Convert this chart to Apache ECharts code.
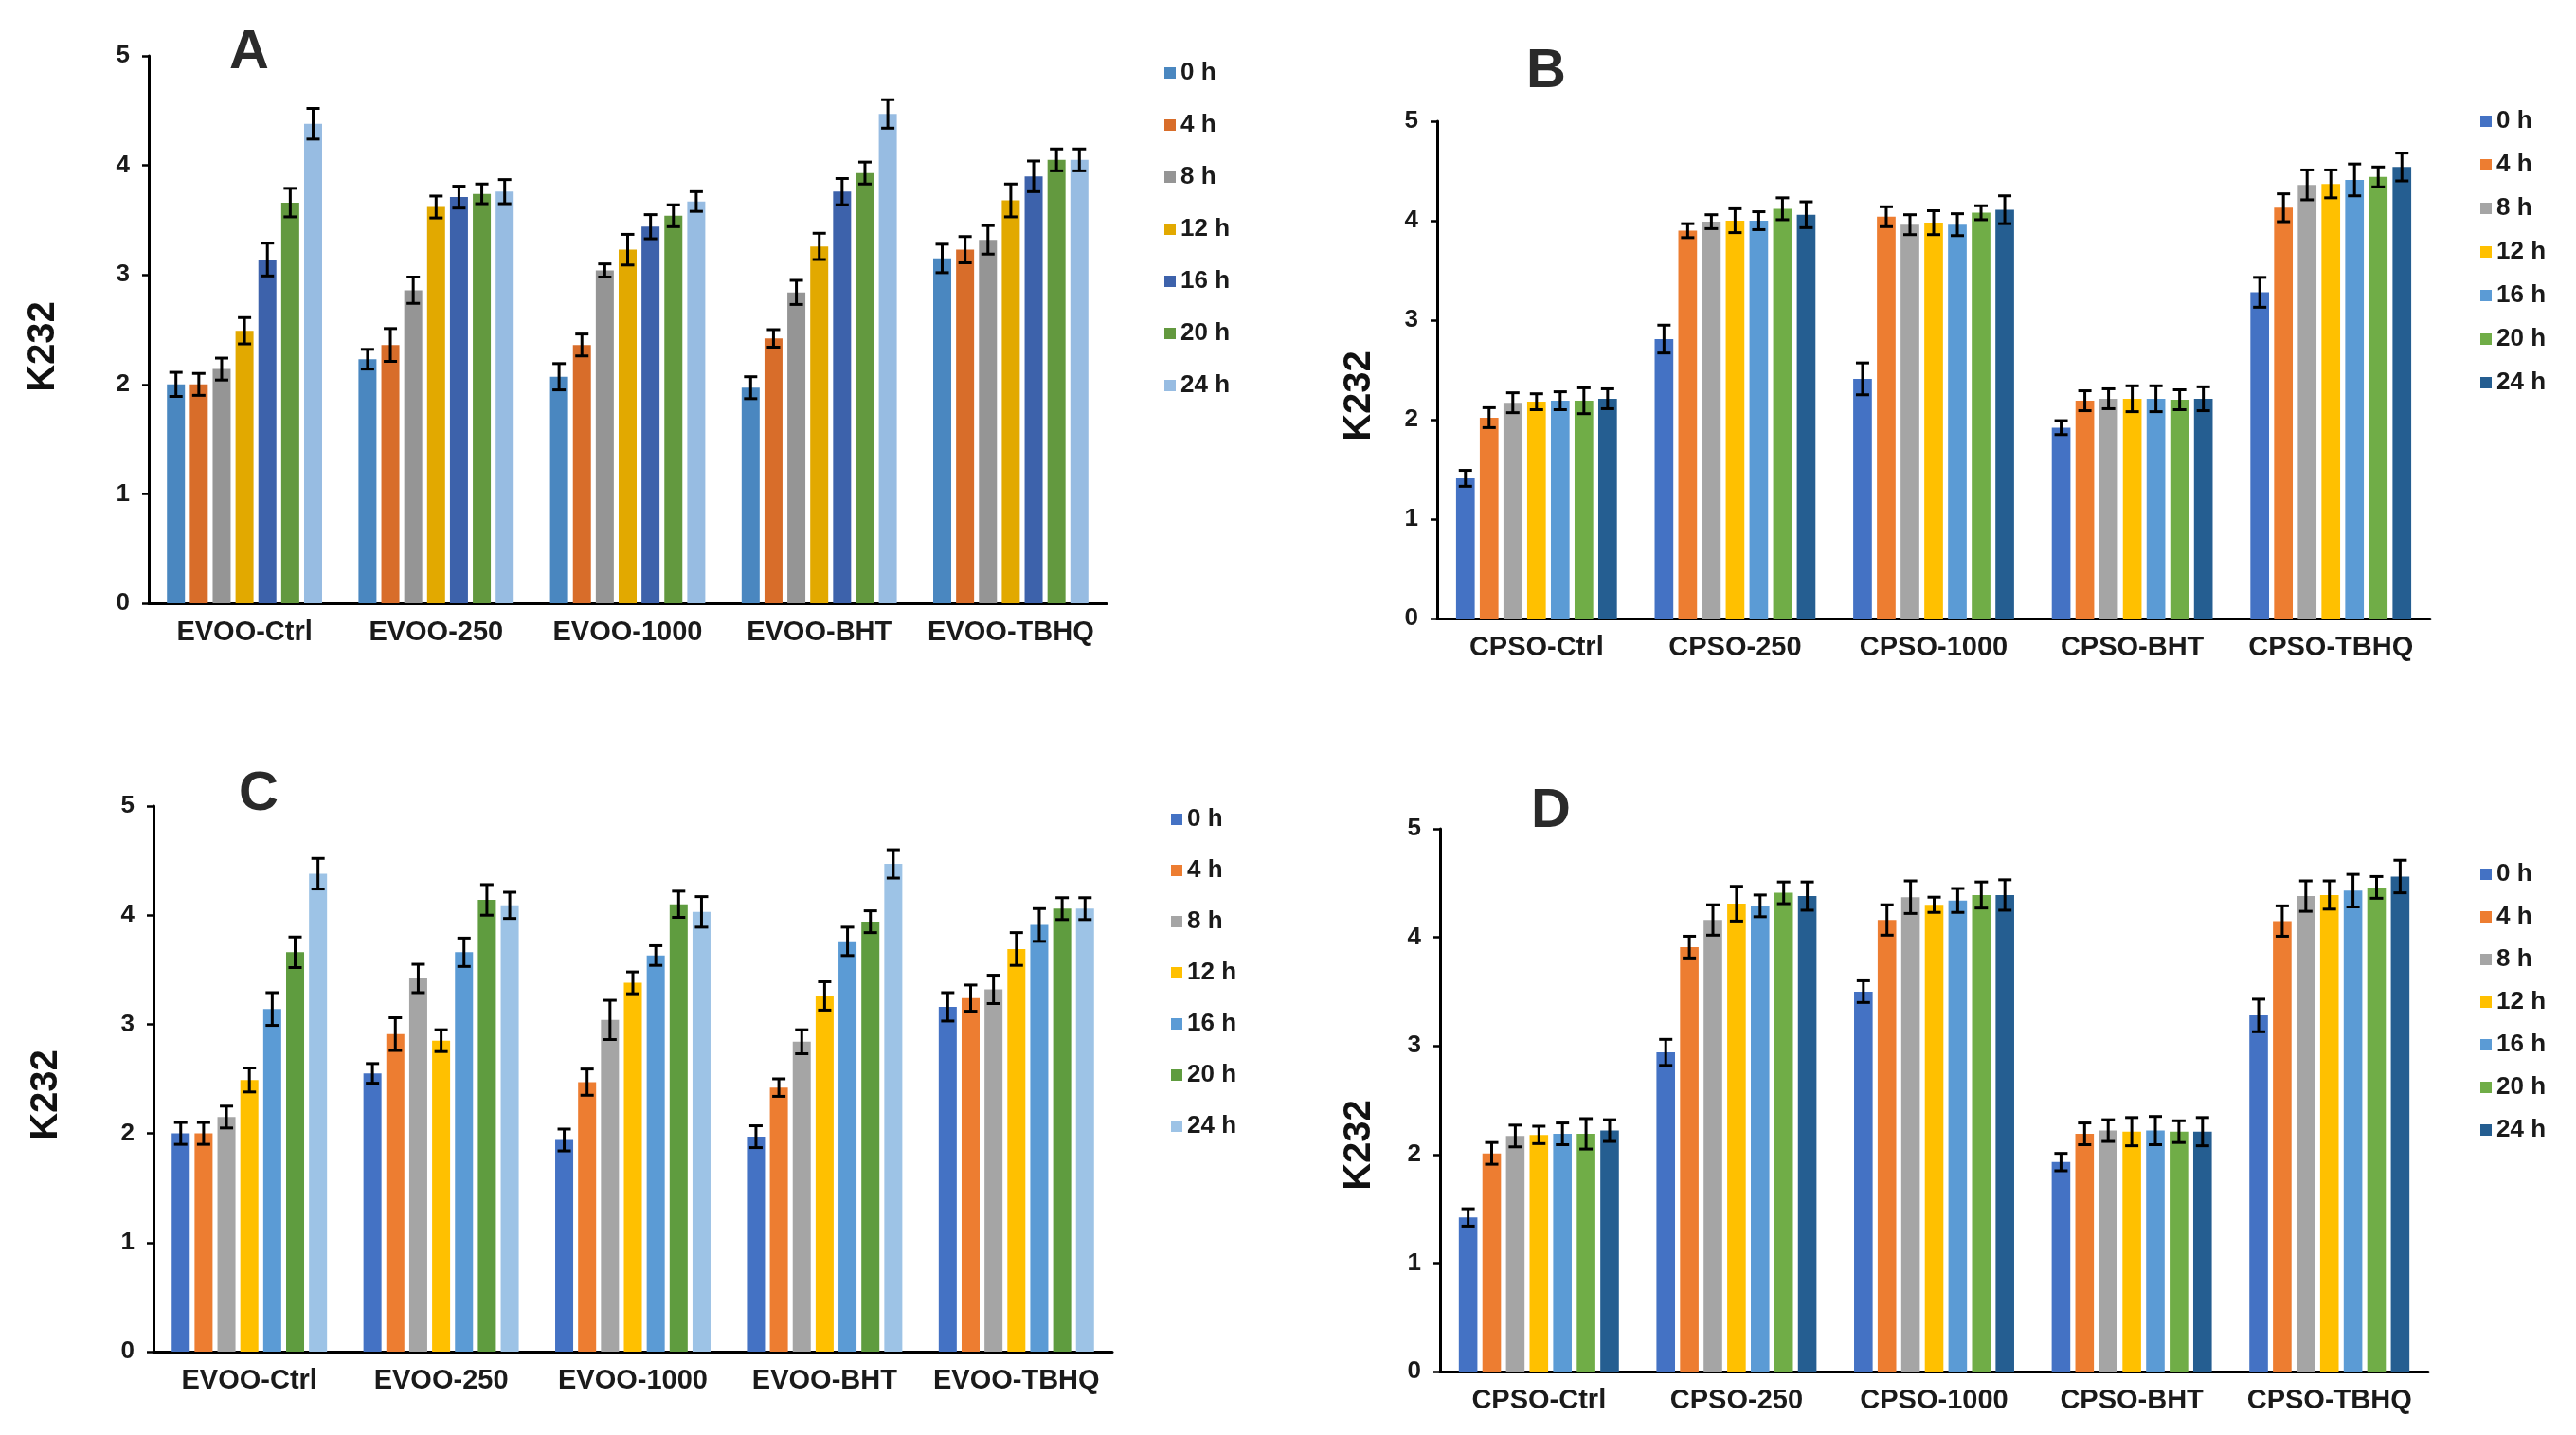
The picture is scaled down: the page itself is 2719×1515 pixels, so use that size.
<!DOCTYPE html>
<html>
<head>
<meta charset="utf-8">
<script src="https://cdn.jsdelivr.net/npm/echarts@6/dist/echarts.min.js"></script>
<style>
html,body{margin:0;padding:0;background:#fff;}
#chart{width:2719px;height:1515px;}
</style>
</head>
<body>
<div id="chart"></div>
<script>
// ---------- DATA ----------
const times = ['0 h','4 h','8 h','12 h','16 h','20 h','24 h'];
const catsEVOO = ['EVOO-Ctrl','EVOO-250','EVOO-1000','EVOO-BHT','EVOO-TBHQ'];
const catsCPSO = ['CPSO-Ctrl','CPSO-250','CPSO-1000','CPSO-BHT','CPSO-TBHQ'];
const yTicks = [0,1,2,3,4,5];

// rows = categories, columns = times (0..24 h)
const meanA = [
  [2.00, 2.00, 2.14, 2.49, 3.14, 3.66, 4.38],
  [2.23, 2.36, 2.86, 3.62, 3.71, 3.74, 3.76],
  [2.07, 2.36, 3.04, 3.23, 3.44, 3.54, 3.67],
  [1.97, 2.42, 2.84, 3.26, 3.76, 3.93, 4.47],
  [3.15, 3.23, 3.32, 3.68, 3.90, 4.05, 4.05]
];
const errA = [
  [0.11, 0.10, 0.10, 0.12, 0.15, 0.13, 0.14],
  [0.09, 0.15, 0.12, 0.10, 0.10, 0.09, 0.11],
  [0.12, 0.10, 0.06, 0.14, 0.11, 0.10, 0.09],
  [0.10, 0.08, 0.11, 0.12, 0.12, 0.10, 0.13],
  [0.13, 0.12, 0.13, 0.15, 0.14, 0.10, 0.10]
];
const meanB = [
  [1.41, 2.02, 2.17, 2.18, 2.19, 2.19, 2.21],
  [2.81, 3.90, 3.99, 4.00, 4.00, 4.12, 4.06],
  [2.41, 4.04, 3.96, 3.98, 3.96, 4.08, 4.11],
  [1.92, 2.19, 2.21, 2.21, 2.21, 2.20, 2.21],
  [3.28, 4.13, 4.36, 4.37, 4.41, 4.44, 4.54]
];
const errB = [
  [0.08, 0.10, 0.10, 0.08, 0.09, 0.13, 0.10],
  [0.14, 0.07, 0.07, 0.12, 0.09, 0.11, 0.13],
  [0.16, 0.10, 0.10, 0.12, 0.11, 0.07, 0.14],
  [0.07, 0.10, 0.10, 0.13, 0.13, 0.10, 0.12],
  [0.15, 0.14, 0.15, 0.14, 0.16, 0.10, 0.14]
];
const meanC = [
  [2.00, 2.00, 2.15, 2.49, 3.14, 3.66, 4.38],
  [2.55, 2.91, 3.42, 2.85, 3.66, 4.14, 4.09],
  [1.94, 2.47, 3.04, 3.38, 3.63, 4.10, 4.03],
  [1.97, 2.42, 2.84, 3.26, 3.76, 3.94, 4.47],
  [3.16, 3.24, 3.32, 3.69, 3.91, 4.06, 4.06]
];
const errC = [
  [0.10, 0.10, 0.10, 0.11, 0.15, 0.14, 0.14],
  [0.09, 0.15, 0.13, 0.10, 0.13, 0.14, 0.12],
  [0.10, 0.12, 0.18, 0.10, 0.09, 0.12, 0.14],
  [0.10, 0.08, 0.11, 0.13, 0.13, 0.10, 0.13],
  [0.13, 0.12, 0.13, 0.15, 0.15, 0.10, 0.10]
];
const meanD = [
  [1.42, 2.01, 2.17, 2.18, 2.19, 2.19, 2.22],
  [2.94, 3.91, 4.16, 4.31, 4.29, 4.41, 4.38],
  [3.50, 4.16, 4.37, 4.30, 4.34, 4.39, 4.39],
  [1.93, 2.19, 2.22, 2.21, 2.22, 2.21, 2.21],
  [3.28, 4.15, 4.38, 4.39, 4.43, 4.46, 4.56]
];
const errD = [
  [0.08, 0.10, 0.10, 0.08, 0.10, 0.14, 0.10],
  [0.12, 0.10, 0.14, 0.16, 0.10, 0.10, 0.13],
  [0.10, 0.14, 0.15, 0.07, 0.11, 0.12, 0.14],
  [0.08, 0.10, 0.10, 0.13, 0.13, 0.10, 0.13],
  [0.15, 0.14, 0.14, 0.13, 0.15, 0.10, 0.15]
];

// ---------- STYLE ----------
const colorsA = ['#4a87c0','#d86d2a','#959595','#e2a900','#3d62ab','#63993f','#97bce2'];
const colorsB = ['#4472c4','#ed7d31','#a5a5a5','#ffc000','#5b9bd5','#70ad47','#255e91'];
const colorsC = ['#4472c4','#ed7d31','#a5a5a5','#ffc000','#5b9bd5','#5f9c3f','#9dc3e6'];
const colorsD = colorsB;

const CAT_GAP = 0.19, BAR_GAP = 0.27;
const FONT = 'Liberation Sans';

const panels = [
  {key:'A', cats:catsEVOO, mean:meanA, err:errA, colors:colorsA,
   grid:{left:157, top:59, width:1011, height:578},
   legend:{left:1224, top:59, gap:29},
   title:[263,56], ylab:[46,366]},
  {key:'B', cats:catsCPSO, mean:meanB, err:errB, colors:colorsB,
   grid:{left:1517, top:128, width:1048, height:525},
   legend:{left:2613, top:110, gap:20},
   title:[1632,76], ylab:[1435,418]},
  {key:'C', cats:catsEVOO, mean:meanC, err:errC, colors:colorsC,
   grid:{left:162, top:851, width:1012, height:576},
   legend:{left:1231, top:847, gap:28},
   title:[273,839], ylab:[49,1156]},
  {key:'D', cats:catsCPSO, mean:meanD, err:errD, colors:colorsD,
   grid:{left:1520, top:875, width:1043, height:573},
   legend:{left:2613, top:905, gap:19},
   title:[1637,857], ylab:[1435,1209]}
];

const grids = [], xAxes = [], yAxes = [], series = [], legends = [], graphics = [];

function errRender(params, api){
  const cat = api.value(0), s = api.value(1), lo = api.value(2), hi = api.value(3);
  const pLo = api.coord([cat, lo]);
  const pHi = api.coord([cat, hi]);
  const bw = api.size([1, 0])[0];
  const n = times.length;
  const rem = bw * (1 - CAT_GAP);
  const w = rem / (n + (n - 1) * BAR_GAP);
  const x = pLo[0] - rem / 2 + w / 2 + s * w * (1 + BAR_GAP);
  const cap = 7;
  const st = {stroke:'#000', lineWidth:3};
  return {type:'group', children:[
    {type:'line', shape:{x1:x, y1:pLo[1], x2:x, y2:pHi[1]}, style:st},
    {type:'line', shape:{x1:x-cap, y1:pLo[1], x2:x+cap, y2:pLo[1]}, style:st},
    {type:'line', shape:{x1:x-cap, y1:pHi[1], x2:x+cap, y2:pHi[1]}, style:st}
  ]};
}

panels.forEach((p, gi) => {
  grids.push(Object.assign({containLabel:false}, p.grid));
  xAxes.push({
    type:'category', gridIndex:gi, data:p.cats,
    axisLine:{show:true, lineStyle:{color:'#000', width:3}},
    axisTick:{show:false},
    axisLabel:{color:'#1a1a1a', fontFamily:FONT, fontWeight:'bold', fontSize:29, margin:16, interval:0},
    splitLine:{show:false}
  });
  yAxes.push({
    type:'value', gridIndex:gi, min:yTicks[0], max:yTicks[yTicks.length-1], interval:1,
    axisLine:{show:true, lineStyle:{color:'#000', width:3}},
    axisTick:{show:true, length:7, lineStyle:{color:'#000', width:2.5}},
    axisLabel:{color:'#1a1a1a', fontFamily:FONT, fontWeight:'bold', fontSize:26, margin:20},
    splitLine:{show:false}
  });
  const legendNames = [];
  times.forEach((t, ti) => {
    const name = p.key + '|' + t;
    legendNames.push(name);
    series.push({
      type:'bar', name:name, xAxisIndex:gi, yAxisIndex:gi,
      data:p.mean.map(row => row[ti]),
      itemStyle:{color:p.colors[ti]},
      barGap:(BAR_GAP*100)+'%', barCategoryGap:(CAT_GAP*100)+'%',
      silent:true, animation:false
    });
  });
  const errData = [];
  p.mean.forEach((row, ci) => {
    row.forEach((m, ti) => {
      const e = p.err[ci][ti];
      errData.push([ci, ti, m - e, m + e]);
    });
  });
  series.push({
    type:'custom', name:'err'+p.key, xAxisIndex:gi, yAxisIndex:gi,
    renderItem:errRender, data:errData, z:10, silent:true, animation:false,
    encode:{x:0, y:[2,3]}
  });
  legends.push({
    orient:'vertical', left:p.legend.left, top:p.legend.top,
    itemWidth:12, itemHeight:12, itemGap:p.legend.gap,
    icon:'rect', data:legendNames, selectedMode:false,
    formatter:function(name){ return name.split('|')[1]; },
    textStyle:{color:'#1a1a1a', fontFamily:FONT, fontWeight:'bold', fontSize:26, lineHeight:26}
  });
  graphics.push({
    type:'text', x:p.title[0], y:p.title[1],
    style:{text:p.key, font:'bold 58px "' + FONT + '"', fill:'#2a2a2a', textAlign:'center', textVerticalAlign:'middle'}
  });
  graphics.push({
    type:'text', x:p.ylab[0], y:p.ylab[1], rotation:Math.PI/2,
    style:{text:'K232', font:'bold 40px "' + FONT + '"', fill:'#111', textAlign:'center', textVerticalAlign:'middle'}
  });
});

const chart = echarts.init(document.getElementById('chart'), null, {renderer:'canvas'});
chart.setOption({
  backgroundColor:'#ffffff',
  animation:false,
  grid:grids, xAxis:xAxes, yAxis:yAxes, series:series, legend:legends,
  graphic:graphics
});
</script>
</body>
</html>
